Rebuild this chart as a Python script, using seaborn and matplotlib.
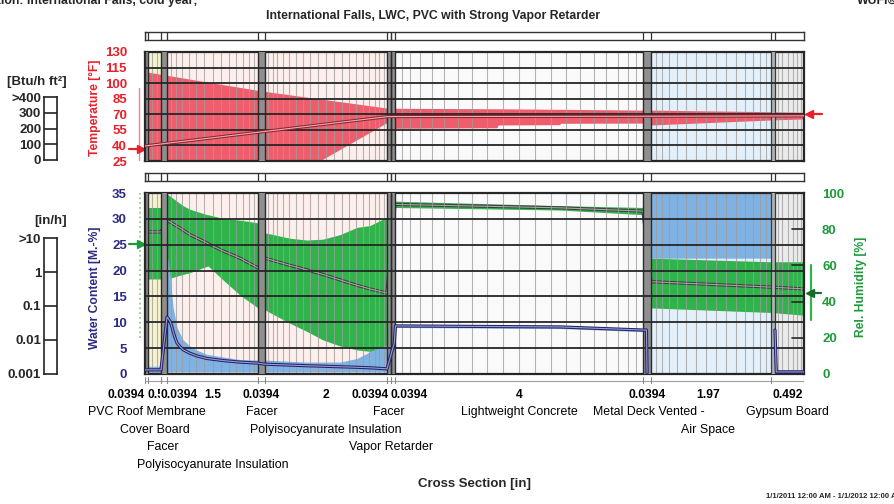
import numpy as np
import pandas as pd
import matplotlib
matplotlib.use("Agg")
import matplotlib.pyplot as plt
from matplotlib import font_manager
import seaborn as sns

# ---------------- data ----------------
title = "International Falls, LWC, PVC with Strong Vapor Retarder"
location = "Location: International Falls, cold year;"
period = "1/1/2011 12:00 AM - 1/1/2012 12:00 AM"

layer_names = ["PVC Roof Membrane", "Cover Board", "Facer", "Polyisocyanurate Insulation",
               "Facer", "Polyisocyanurate Insulation", "Facer", "Vapor Retarder",
               "Lightweight Concrete", "Metal Deck Vented -", "Air Space", "Gypsum Board"]
layer_thickness = [0.0394, 0.5, 0.0394, 1.5, 0.0394, 2, 0.0394, 0.0394, 4, 0.0394, 1.97, 0.492]

# temperature profile [°F] across the section [in]
temp_band_x = [0.0, 0.5788, 2.0788, 2.1182, 4.1182, 4.197, 5.84, 5.86, 6.85, 6.87,
               8.197, 8.2364, 10.2064, 10.6984]
temp_max = [111, 107.5, 93, 92, 76, 75.8, 75.3, 75.3, 74.8, 74.8, 74, 74, 72.5, 72]
temp_min = [-20, -15, -9, -5, 62, 56.5, 57, 59.7, 60, 61.3, 61.5, 59.7, 64.5, 65.5]
temp_mean_x = [0.0, 4.1182, 4.197, 8.197, 10.6984]
temp_mean = [39.5, 67.7, 67.8, 68.1, 68.5]

# relative humidity profile [%]
rh_x = [0.0, 0.5394, 0.5788, 0.843, 0.958, 1.238, 1.255, 1.502, 1.782, 2.0788, 2.1182,
        2.528, 2.807, 3.069, 3.348, 3.626, 3.839, 4.1182, 4.197, 6.858, 8.197, 8.2364,
        10.2064, 10.6984]
rh_max = [92, 92, 99.5, 93, 91, 88, 88, 86, 85, 83.5, 78, 75, 74, 74.5, 77, 81, 82, 86.7,
          95.5, 93, 92, 64, 62, 62]
rh_min = [52.5, 52.5, 52.5, 55, 56, 59.5, 59.7, 52, 43.6, 36.5, 35.4, 28, 23.5, 18.8, 15.5,
          13.3, 12.5, 13, 92, 90.6, 88, 36.5, 34, 32.5]
rh_mean = [78.5, 78.5, 85, 79.6, 77, 72.4, 72, 68, 64, 58.6, 64, 60, 57.5, 55, 52, 49, 47,
           44.7, 93.7, 91.8, 90, 51, 48, 47]

# water content profile [M.-%]
wc_x = [0.0, 0.5394, 0.5788, 0.595, 0.628, 0.661, 0.678, 0.711, 0.744, 0.793, 0.843, 0.958,
        1.073, 1.238, 1.502, 1.782, 2.0788, 2.1182, 2.807, 3.348, 3.626, 3.839, 3.889,
        4.1182, 4.197, 6.858, 8.197, 8.2364, 10.2064, 10.21, 10.6984]
wc_max = [1.5, 1.5, 23, 22, 19.5, 15, 13, 11, 9, 7.8, 6.6, 5.4, 4.6, 3.8, 3.3, 2.8, 2.7, 2.7,
          2.3, 2.3, 3.0, 4.3, 4.6, 5.6, 9.6, 9.4, 8.8, 60, 60, 0.9, 0.8]
wc_min = [0.3, 0.3] + [0.4] * 22 + [9.0, 8.8, 8.2, 22.4, 22.4, 0.1, 0.1]
wc_mean_x = [0.0, 0.5394, 0.5788, 0.595, 0.628, 0.661, 0.678, 0.711, 0.744, 0.793, 0.843,
             0.958, 1.073, 1.238, 1.502, 1.782, 2.0788, 2.1182, 2.807, 3.348, 3.626, 3.839,
             4.1182, 4.19, 4.205, 6.858, 8.197, 8.214, 8.217,
             10.266, 10.285, 10.6984]
wc_mean = [0.8, 0.8, 11, 10.8, 10.2, 9.1, 8.3, 7.0, 6.0, 5.3, 4.7, 4.0, 3.5, 3.0, 2.6, 2.3,
           2.1, 1.9, 1.6, 1.4, 1.3, 1.2, 1.0, 6.0, 9.3, 9.1, 8.5, 8.5, 0.2,
           8.5, 0.4, 0.4]
wc_mean_seg = [0] * 29 + [1] * 3

# boundary conditions (outdoor left, indoor right)
out_temp_range = [26, 95]
out_temp_now = 37
in_temp_now = 70
out_rh_range = [20, 100]
out_rh_now = 72
in_rh_range = [30, 60]
in_rh_now = 45

heat_flux_labels = ["0", "100", "200", "300", ">400"]
rain_labels = ["0.001", "0.01", "0.1", "1", ">10"]

temp_ticks = list(range(25, 131, 15))
wc_ticks = list(range(0, 36, 5))
rh_ticks = list(range(0, 101, 20))

# ---------------- style ----------------
sns.set_theme(style="white")
names = {f.name for f in font_manager.fontManager.ttflist}
NARROW = "Liberation Sans Narrow" in names
FONT = "Liberation Sans Narrow" if NARROW else "Liberation Sans"
plt.rcParams["font.family"] = [FONT, "DejaVu Sans"]


def fs(s):
    return s if NARROW else s * 0.87


RED = "#e8202a"
NAVY = "#2b2b80"
GREEN_TXT = "#1f9a3a"
BAND_RED = "#ef5d6d"
BAND_GREEN = "#2fb34b"
BAND_BLUE = "#7fb2e2"
FRAME = "#262626"

layer_bg = ["#555555", "#f6f1cf", "#8f8f8f", "#fcefec", "#8f8f8f", "#fcefec", "#8f8f8f",
            "#8f8f8f", "#fafafa", "#8f8f8f", "#e3f0fa", "#ebebeb"]
layer_thin = [True, False, True, False, True, False, True, True, False, True, False, False]
layer_elems = [0, 3, 0, 14, 0, 20, 0, 0, 20, 0, 15, 8]

W, H = 894, 504
fig = plt.figure(figsize=(W / 100, H / 100), dpi=100)


def px_axes(x0, y0, x1, y1, **kw):
    return fig.add_axes([x0 / W, 1 - y1 / H, (x1 - x0) / W, (y1 - y0) / H], **kw)


edges_in = np.concatenate([[0.0], np.cumsum(layer_thickness)])
# screen width given to each layer (grid display, not to scale)
edges_disp = np.array([145, 148, 161, 167, 258, 265, 387, 391, 395, 643, 651, 771, 804], float)


def fwd(x):
    return np.interp(x, edges_in, edges_disp)


def inv(p):
    return np.interp(p, edges_disp, edges_in)


PX0, PX1 = 145, 804


def fx(px):
    return (px - PX0) / (PX1 - PX0)


def element_edges(a, b, n, mix=0.5):
    u = np.linspace(0, 1, n + 1)[1:-1]
    s = mix * u + (1 - mix) * 0.5 * (1 - np.cos(np.pi * u))
    return a + (b - a) * s


def draw_backgrounds(ax):
    for i in range(len(layer_thickness)):
        ax.axvspan(edges_in[i], edges_in[i + 1], color=layer_bg[i], lw=0, zorder=0)


def draw_structure(ax, hticks):
    for i in range(len(layer_thickness)):
        a, b = edges_in[i], edges_in[i + 1]
        if layer_elems[i]:
            for x in element_edges(a, b, layer_elems[i]):
                ax.axvline(x, color="#9c9c9c", lw=0.8, alpha=0.75, zorder=2.5)
        if layer_thin[i]:
            ax.axvspan(a, b, facecolor="#8f8f8f", edgecolor="none", zorder=3)
            for x in (a, b):
                ax.axvline(x, color="#2a2a2a", lw=1.0, zorder=3.1)
    g0 = edges_in[11]
    ax.axvspan(g0, g0 + 0.06, facecolor="#b3b3b3", edgecolor="none", zorder=3)
    for x in (g0, g0 + 0.06):
        ax.axvline(x, color="#3a3a3a", lw=0.9, zorder=3.1)
    for y in hticks[1:-1]:
        ax.axhline(y, color=FRAME, lw=1.3, zorder=4)
    for sp in ax.spines.values():
        sp.set_color(FRAME)
        sp.set_linewidth(1.6)
        sp.set_visible(True)


def double_line(ax, df, x, y, outer, inner, units=None):
    kw = dict(units=units, estimator=None) if units else dict(errorbar=None)
    sns.lineplot(data=df, x=x, y=y, ax=ax, color=outer, linewidth=2.3, zorder=6,
                 legend=False, **kw)
    sns.lineplot(data=df, x=x, y=y, ax=ax, color=inner, linewidth=0.8, zorder=6.1,
                 legend=False, **kw)


# ---------------- temperature panel ----------------
ax_t = px_axes(145, 52, 804, 161)
ax_t.set_xscale("function", functions=(fwd, inv))
ax_t.set_xlim(0, edges_in[-1])
ax_t.set_ylim(25, 130)
draw_backgrounds(ax_t)
ax_t.fill_between(temp_band_x, temp_min, temp_max, color=BAND_RED, lw=0, zorder=2)
draw_structure(ax_t, temp_ticks)
double_line(ax_t, pd.DataFrame({"x": temp_mean_x, "t": temp_mean}), "x", "t",
            "#8b2530", "#f5aab3")
ax_t.set_yticks(temp_ticks)
ax_t.tick_params(axis="y", left=False, length=0, pad=13, labelcolor=RED, labelsize=fs(11))
ax_t.set_xticks([])
ax_t.set_xlabel("")
ax_t.set_ylabel("")

tt = ax_t.get_yaxis_transform()
ax_t.plot([fx(139)] * 2, out_temp_range, transform=tt, color="#f08492", lw=1.0, clip_on=False)
ax_t.plot([fx(129), fx(140)], [out_temp_now] * 2, transform=tt, color=RED, lw=1.6, clip_on=False)
ax_t.plot([fx(141)], [out_temp_now], transform=tt, marker=">", ms=6, color=RED, clip_on=False)
ax_t.plot([fx(810), fx(822)], [in_temp_now] * 2, transform=tt, color=RED, lw=1.6, clip_on=False)
ax_t.plot([fx(809)], [in_temp_now], transform=tt, marker="<", ms=6, color=RED, clip_on=False)

# ---------------- moisture panel ----------------
ax_rh = px_axes(145, 193, 804, 374, sharex=ax_t)
ax_wc = px_axes(145, 193, 804, 374, sharex=ax_t)
ax_wc.patch.set_visible(False)
ax_rh.set_ylim(0, 100)
ax_wc.set_ylim(0, 35)

draw_backgrounds(ax_rh)
ax_rh.fill_between(rh_x, rh_min, rh_max, color=BAND_GREEN, lw=0, zorder=2)
double_line(ax_rh, pd.DataFrame({"x": rh_x, "rh": rh_mean}), "x", "rh", "#3c3c3c", "#a3aaa3")
ax_rh.yaxis.tick_right()
ax_rh.set_yticks(rh_ticks)
ax_rh.tick_params(axis="y", right=False, left=False, length=0, pad=13,
                  labelcolor=GREEN_TXT, labelsize=fs(11))

ax_wc.fill_between(wc_x, wc_min, wc_max, color=BAND_BLUE, lw=0, zorder=2)
draw_structure(ax_wc, wc_ticks)
double_line(ax_wc, pd.DataFrame({"x": wc_mean_x, "wc": wc_mean, "seg": wc_mean_seg}),
            "x", "wc", "#22226a", "#9c9cd4", units="seg")
ax_wc.set_yticks(wc_ticks)
ax_wc.tick_params(axis="y", left=False, length=0, pad=13, labelcolor=NAVY, labelsize=fs(11))

# inward tick marks of the humidity scale, drawn above the bands
wt = ax_wc.get_yaxis_transform()
for r in rh_ticks[1:-1]:
    y = r / 100 * 35
    ax_wc.plot([fx(792), 1.0], [y, y], transform=wt, color=FRAME, lw=1.2, zorder=7,
               clip_on=False)

for a in (ax_rh, ax_wc):
    a.set_xticks([])
    a.set_xlabel("")
    a.set_ylabel("")
for a in (ax_t, ax_rh, ax_wc):
    for lbl in a.get_yticklabels():
        lbl.set_fontweight("bold")

rt = ax_rh.get_yaxis_transform()
ax_rh.plot([fx(140)] * 2, out_rh_range, transform=rt, color="#86d096", lw=1.3, ls=":",
           clip_on=False)
ax_rh.plot([fx(129), fx(140)], [out_rh_now] * 2, transform=rt, color="#1f9a3a", lw=1.6,
           clip_on=False)
ax_rh.plot([fx(141)], [out_rh_now], transform=rt, marker=">", ms=6, color="#1f9a3a",
           clip_on=False)
ax_rh.plot([fx(811)] * 2, in_rh_range, transform=rt, color=BAND_GREEN, lw=1.6, clip_on=False)
ax_rh.plot([fx(811), fx(821)], [in_rh_now] * 2, transform=rt, color="#176b2a", lw=1.6,
           clip_on=False)
ax_rh.plot([fx(810)], [in_rh_now], transform=rt, marker="<", ms=6, color="#176b2a",
           clip_on=False)

# ---------------- layer strips and ruler ----------------
for (y0, y1) in ((32, 40), (173, 181)):
    s = px_axes(145, y0, 804, y1, sharex=ax_t)
    s.set_ylim(0, 1)
    s.set_xticks([])
    s.set_yticks([])
    for sp in s.spines.values():
        sp.set_visible(True)
        sp.set_color("#333333")
        sp.set_linewidth(1.0)
    for i in range(len(layer_thickness)):
        if layer_thin[i]:
            for x in (edges_in[i], edges_in[i + 1]):
                s.axvline(x, color="#333333", lw=0.9)
    s.axvline(edges_in[11], color="#333333", lw=0.9)
    s.axvline(edges_in[11] + 0.06, color="#333333", lw=0.9)

ruler = px_axes(145, 377, 804, 384, sharex=ax_t)
ruler.set_ylim(0, 1)
ruler.axis("off")
ruler.axhline(0.5, color="#a0a0a0", lw=0.8)
for x in edges_in:
    ruler.axvline(x, color="#8a8a8a", lw=0.8)

# ---------------- cross-section labels ----------------
centers = (edges_in[:-1] + edges_in[1:]) / 2
thk_dx = [-20, 1, 15, 0, 0, 0, -19, 16, 0, 0, -3, 0]
name_row = [0, 1, 2, 3, 0, 1, 0, 2, 0, 0, 1, 0]
name_dx = [0, 0, -1, 0, 0, 0, 0, -2, 0, 2, -3, 0]
row_dy = [38, 56, 73, 91]
xt = ax_wc.get_xaxis_transform()
for i, t in enumerate(layer_thickness):
    box = dict(boxstyle="square,pad=0", fc="white", ec="none") if i == 2 else None
    ax_wc.annotate(f"{t:g}", xy=(centers[i], 0), xycoords=xt, xytext=(thk_dx[i], -21),
                   textcoords="offset pixels", ha="center", va="center", fontweight="bold",
                   fontsize=fs(10), color="black", bbox=box, zorder=10 + i)
for i, nm in enumerate(layer_names):
    ax_wc.annotate(nm, xy=(centers[i], 0), xycoords=xt,
                   xytext=(name_dx[i], -row_dy[name_row[i]]), textcoords="offset pixels",
                   ha="center", va="center", fontsize=fs(10.3), color="black")

# ---------------- left legends ----------------
def legend_box(x0, y0, x1, y1, labels):
    lb = px_axes(x0, y0, x1, y1)
    lb.set_xlim(0, 1)
    lb.set_ylim(0, len(labels) - 1)
    lb.set_xticks([])
    lb.set_yticks(range(len(labels)))
    lb.set_yticklabels(labels)
    lb.tick_params(axis="y", left=False, length=0, pad=2, labelsize=fs(11))
    for lbl in lb.get_yticklabels():
        lbl.set_fontweight("bold")
    for y in range(1, len(labels) - 1):
        lb.axhline(y, color="#222222", lw=1.2)
    for sp in lb.spines.values():
        sp.set_visible(True)
        sp.set_color("#222222")
        sp.set_linewidth(1.2)
    lb.set_facecolor("white")
    return lb


legend_box(44, 97, 57, 160, heat_flux_labels)
legend_box(44, 238, 57, 374, rain_labels)
fig.text(37 / W, 1 - 82 / H, "[Btu/h ft²]", ha="center", va="center", fontweight="bold",
         fontsize=fs(11))
fig.text(51 / W, 1 - 221 / H, "[in/h]", ha="center", va="center", fontweight="bold",
         fontsize=fs(11))

# ---------------- titles and axis labels ----------------
fig.text(433 / W, 1 - 16 / H, title, ha="center", va="center", fontweight="bold",
         fontsize=fs(10.2))
fig.text(197 / W, 1 - 4 / H, location, ha="right", va="baseline", fontweight="bold",
         fontsize=fs(10.2))
fig.text(857 / W, 1 - 4 / H, "WUFI®", ha="left", va="baseline", fontweight="bold",
         fontsize=fs(10.2))
fig.text(474 / W, 1 - 484 / H, "Cross Section [in]", ha="center", va="center",
         fontweight="bold", fontsize=fs(11))
fig.text(766 / W, 1 - 497 / H, period, ha="left", va="center", fontweight="bold",
         fontsize=fs(6.3))
fig.text(95 / W, 1 - 108 / H, "Temperature [°F]", rotation=90, ha="center", va="center",
         color=RED, fontweight="bold", fontsize=fs(10))
fig.text(95 / W, 1 - 288 / H, "Water Content [M.-%]", rotation=90, ha="center",
         va="center", color=NAVY, fontweight="bold", fontsize=fs(10))
fig.text(861 / W, 1 - 287 / H, "Rel. Humidity [%]", rotation=90, ha="center", va="center",
         color=GREEN_TXT, fontweight="bold", fontsize=fs(10))

fig.savefig("out.png", dpi=100)
